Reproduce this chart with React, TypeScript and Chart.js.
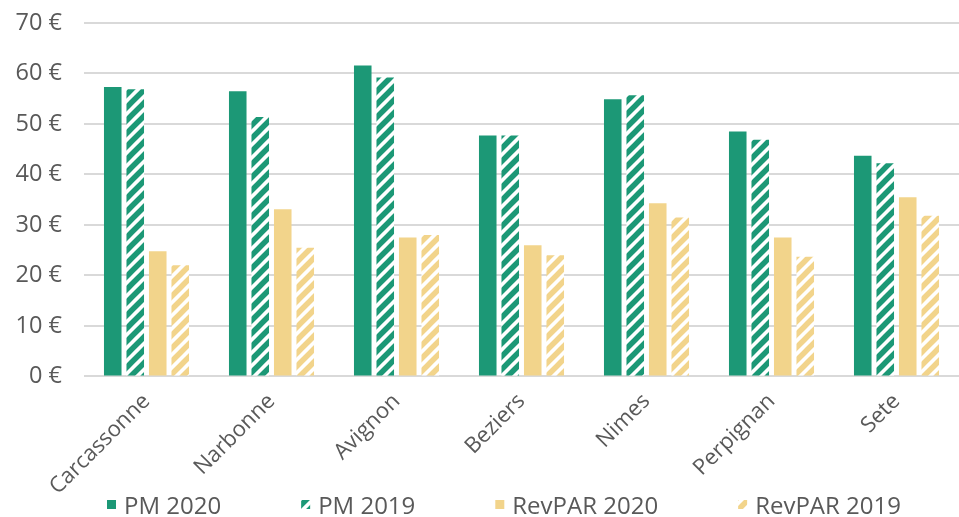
import { useEffect, useRef } from "react";
import { Chart, registerables, type ChartConfiguration, type Plugin } from "chart.js";

Chart.register(...registerables);

const categories = ["Carcassonne", "Narbonne", "Avignon", "Beziers", "Nimes", "Perpignan", "Sete"];
const pm2020 = [57.3, 56.5, 61.6, 47.7, 54.9, 48.5, 43.7];
const pm2019 = [56.9, 51.4, 59.2, 47.7, 55.7, 46.9, 42.2];
const revpar2020 = [24.8, 33.1, 27.5, 26.0, 34.3, 27.5, 35.5];
const revpar2019 = [22.0, 25.5, 28.0, 24.0, 31.5, 23.7, 31.8];
const yTicks = [0, 10, 20, 30, 40, 50, 60, 70];

const GREEN = "#1c9876";
const YELLOW = "#f2d48b";
const TEXT = "#595959";
const GRID = "#d9d9d9";
const FONT_FAMILY = "'Open Sans', sans-serif";

function hatch(color: string): CanvasPattern | string {
  const s = 13;
  const c = document.createElement("canvas");
  c.width = s;
  c.height = s;
  const ctx = c.getContext("2d");
  if (!ctx) return color;
  ctx.fillStyle = "#ffffff";
  ctx.fillRect(0, 0, s, s);
  ctx.strokeStyle = color;
  ctx.lineWidth = 5.5;
  ctx.lineCap = "square";
  ctx.beginPath();
  ctx.moveTo(0, s);
  ctx.lineTo(s, 0);
  ctx.moveTo(-s / 2, s / 2);
  ctx.lineTo(s / 2, -s / 2);
  ctx.moveTo(s / 2, s * 1.5);
  ctx.lineTo(s * 1.5, s / 2);
  ctx.stroke();
  return ctx.createPattern(c, "repeat") ?? color;
}

// legend drawn by hand so the spacing can follow the reference
const bottomLegend: Plugin<"bar"> = {
  id: "bottomLegend",
  afterDraw(chart) {
    const ctx = chart.ctx;
    const box = 9;
    ctx.save();
    ctx.font = `24px ${FONT_FAMILY}`;
    ctx.textBaseline = "alphabetic";
    let x = 107;
    const baseline = chart.height - 3;
    chart.data.datasets.forEach((ds) => {
      ctx.fillStyle = ds.backgroundColor as any;
      ctx.fillRect(x, baseline - 14, box, box);
      x += box + 8;
      ctx.fillStyle = TEXT;
      const label = ds.label ?? "";
      ctx.fillText(label, x, baseline);
      x += ctx.measureText(label).width + 80;
    });
    ctx.restore();
  },
};

export default function App() {
  const canvasRef = useRef<HTMLCanvasElement>(null);

  useEffect(() => {
    document.body.style.margin = "0";
    if (!canvasRef.current) return;

    const cfg: ChartConfiguration<"bar"> = {
      type: "bar",
      data: {
        labels: categories,
        datasets: [
          { label: "PM 2020", data: pm2020, backgroundColor: GREEN },
          { label: "PM 2019", data: pm2019, backgroundColor: hatch(GREEN) as any },
          { label: "RevPAR 2020", data: revpar2020, backgroundColor: YELLOW },
          { label: "RevPAR 2019", data: revpar2019, backgroundColor: hatch(YELLOW) as any },
        ],
      },
      options: {
        responsive: true,
        maintainAspectRatio: false,
        animation: false,
        layout: { padding: { left: 16, right: -9, top: 23, bottom: 13 } },
        datasets: { bar: { categoryPercentage: 0.72, barPercentage: 0.78 } },
        plugins: {
          legend: { display: false },
          tooltip: { enabled: false },
        },
        scales: {
          x: {
            grid: { display: false },
            border: { display: false },
            afterFit: (axis) => {
              axis.paddingLeft = 0;
              axis.paddingRight = 0;
            },
            ticks: {
              color: TEXT,
              font: { family: FONT_FAMILY, size: 22 },
              minRotation: 45,
              maxRotation: 45,
              padding: 4,
            },
          },
          y: {
            min: 0,
            max: 70,
            afterBuildTicks: (axis) => {
              axis.ticks = yTicks.map((v) => ({ value: v }));
            },
            afterFit: (axis) => {
              axis.paddingTop = 0;
              axis.paddingBottom = 0;
              axis.width = 68;
            },
            grid: { color: GRID, lineWidth: 2, drawTicks: false },
            border: { display: false },
            ticks: {
              color: TEXT,
              font: { family: FONT_FAMILY, size: 23.5 },
              padding: 22,
              callback: (v) => `${v} €`,
            },
          },
        },
      },
      plugins: [bottomLegend],
    };

    const chart = new Chart(canvasRef.current, cfg);
    return () => {
      chart.destroy();
    };
  }, []);

  return (
    <div style={{ width: 959, height: 517, position: "relative" }}>
      <canvas ref={canvasRef} />
    </div>
  );
}
